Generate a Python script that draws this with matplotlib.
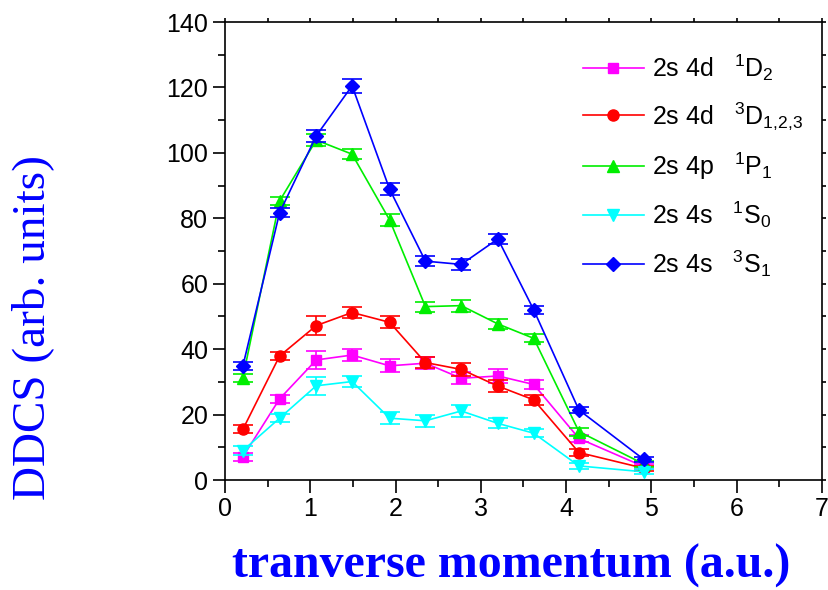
import matplotlib
matplotlib.use("Agg")
import matplotlib.pyplot as plt
from matplotlib.lines import Line2D

plt.rcParams['font.family'] = ['Liberation Sans', 'DejaVu Sans']
plt.rcParams['mathtext.fontset'] = 'custom'
plt.rcParams['mathtext.rm'] = 'Liberation Sans'
plt.rcParams['mathtext.it'] = 'Liberation Sans'

# data
x = [0.21, 0.64, 1.07, 1.49, 1.93, 2.35, 2.77, 3.20, 3.62, 4.15, 4.91]

d2_1D = [7.1, 24.8, 36.7, 38.2, 34.9, 35.7, 31.1, 31.8, 29.2, 12.7, 4.1]
d2_1D_err = [1.2, 1.3, 2.8, 1.8, 2.0, 1.8, 1.8, 2.0, 1.5, 1.2, 0.8]

d_3D = [15.5, 37.9, 47.2, 51.2, 48.2, 35.9, 33.8, 28.7, 24.5, 8.4, 3.6]
d_3D_err = [1.2, 1.2, 2.8, 1.8, 1.8, 1.8, 2.0, 1.8, 1.5, 1.0, 0.8]

p_1P = [31.3, 85.3, 103.9, 99.6, 79.5, 53.0, 53.3, 47.7, 43.3, 14.8, 4.9]
p_1P_err = [1.2, 1.3, 1.8, 1.5, 1.8, 1.5, 1.8, 1.5, 1.2, 1.2, 0.8]

s_1S = [9.0, 18.9, 28.8, 30.1, 18.9, 18.1, 21.1, 17.3, 14.3, 4.3, 2.5]
s_1S_err = [1.5, 1.3, 2.8, 1.8, 1.8, 1.8, 1.8, 1.5, 1.2, 1.0, 0.8]

s_3S = [34.9, 81.7, 105.2, 120.5, 88.9, 66.9, 65.9, 73.7, 52.0, 21.4, 6.3]
s_3S_err = [1.3, 1.3, 1.8, 2.1, 1.8, 1.6, 1.6, 1.6, 1.2, 1.0, 0.8]

labels = [r"2s 4d   $^{1}$D$_{2}$",
          r"2s 4d   $^{3}$D$_{1{,}2{,}3}$",
          r"2s 4p   $^{1}$P$_{1}$",
          r"2s 4s   $^{1}$S$_{0}$",
          r"2s 4s   $^{3}$S$_{1}$"]
series = [d2_1D, d_3D, p_1P, s_1S, s_3S]
errors = [d2_1D_err, d_3D_err, p_1P_err, s_1S_err, s_3S_err]
colors = ['#FF00FF', '#FF0000', '#00EE00', '#00FFFF', '#0000FF']
markers = ['s', 'o', '^', 'v', 'D']
msizes = [7.5, 8, 8.5, 8.5, 7]

fig = plt.figure(figsize=(8.29, 5.90), dpi=100)
ax = fig.add_axes([225 / 829, 110 / 590, 597 / 829, 458 / 590])

handles = []
for y, e, c, m, ms, lab in zip(series, errors, colors, markers, msizes, labels):
    ax.errorbar(x, y, yerr=e, fmt='none', ecolor=c, elinewidth=1.2,
                capsize=7, capthick=1.2)
    ax.plot(x, y, color=c, lw=1.2, marker=m, ms=ms, mec=c, mfc=c)
    handles.append(Line2D([], [], color=c, lw=1.2, marker=m, ms=ms, mec=c, mfc=c, label=lab))

ax.set_xlim(0, 7)
ax.set_ylim(0, 140)
ax.set_xticks(range(0, 8))
ax.set_xticks([i + 0.5 for i in range(7)], minor=True)
ax.set_yticks(range(0, 141, 20))
ax.set_yticks(range(10, 140, 20), minor=True)
ax.tick_params(axis='both', which='major', direction='out', length=9, width=1.2,
               labelsize=18, pad=3)
ax.tick_params(axis='both', which='minor', direction='out', length=5, width=1.2)
ax.tick_params(top=True, right=True, which='both')
for s in ax.spines.values():
    s.set_linewidth(1.2)

# mirror ticks on top/right kept short
for t in ax.xaxis.get_major_ticks() + ax.xaxis.get_minor_ticks():
    t.tick2line.set_markersize(3)
for t in ax.yaxis.get_major_ticks() + ax.yaxis.get_minor_ticks():
    t.tick2line.set_markersize(3)

fig.text(33 / 829, 1 - 328 / 590, "DDCS (arb. units)", family=['Liberation Serif'],
         color='#0000FF', fontsize=34, rotation=90, ha='center', va='center')
fig.text(511 / 829, 1 - 566 / 590, "tranverse momentum (a.u.)", family=['Liberation Serif'],
         color='#0000FF', fontsize=34.5, fontweight='bold', ha='center', va='center')

leg = ax.legend(handles=handles, loc='upper left', bbox_to_anchor=(583 / 829, 1 - 52 / 590),
                bbox_transform=fig.transFigure,
                frameon=False, fontsize=18, handlelength=2.44, labelspacing=0.72,
                handletextpad=0.32, borderaxespad=0, borderpad=0)

fig.savefig("out.png", dpi=100)
